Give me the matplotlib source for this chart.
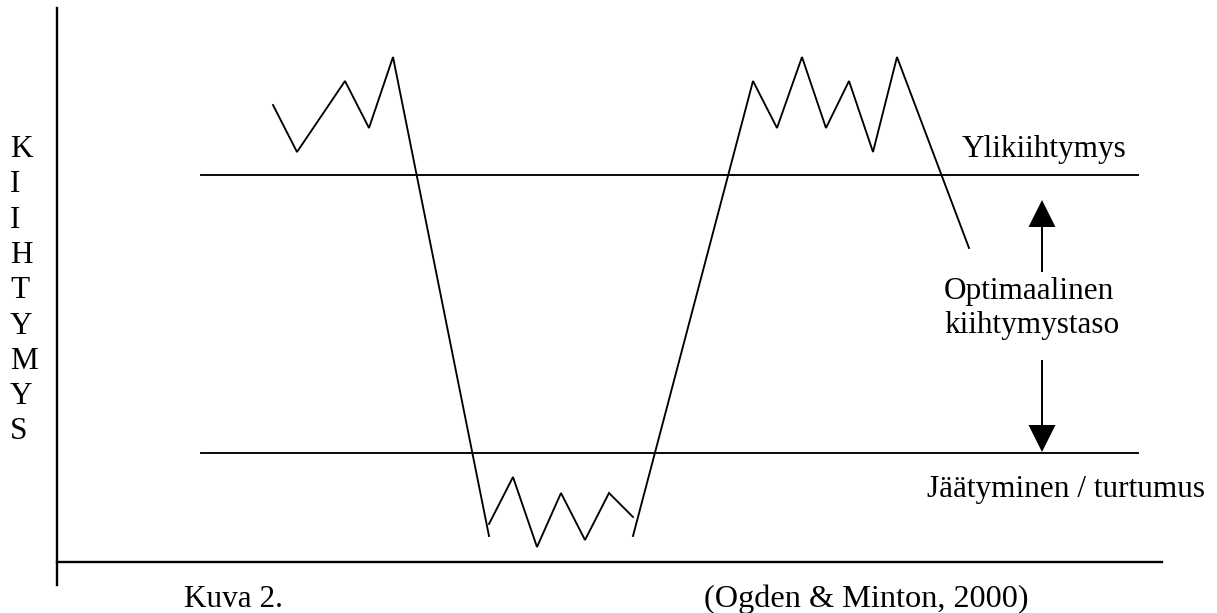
import matplotlib
matplotlib.use("Agg")
import matplotlib.pyplot as plt

plt.rcParams['font.family'] = ['Liberation Serif', 'DejaVu Serif']

# kiihtymyksen tasot (vaakaviivat)
ylikiihtymys_taso = 387
jaatyminen_taso = 109
tasot_x = [144, 1081]

# käyrä kolmessa osassa: aika / kiihtymys
osa1_x = [216, 240, 288, 312, 336, 432]
osa1_y = [457, 410, 481, 434, 505, 26]

osa2_x = [432, 456, 480, 504, 528, 552, 576]
osa2_y = [38, 85, 15, 69, 22, 69, 45]

osa3_x = [576, 696, 720, 745, 769, 792, 816, 840, 912]
osa3_y = [26, 481, 434, 505, 434, 481, 410, 505, 314]

y_kirjaimet = list("KIIHTYMYS")

fs = 22.5
lw = 1.35

fig = plt.figure(figsize=(12.17, 6.13), dpi=100)
ax = fig.add_axes([0, 0, 1, 1])
ax.set_xlim(-57, 1160)
ax.set_ylim(-51, 562)

## akselit
for s in ['top', 'right']:
    ax.spines[s].set_visible(False)
ax.spines['left'].set_position(('data', 0))
ax.spines['bottom'].set_position(('data', 0))
ax.spines['left'].set_bounds(-23, 554)
ax.spines['bottom'].set_bounds(0, 1105)
ax.spines['left'].set_linewidth(1.7)
ax.spines['bottom'].set_linewidth(1.7)
ax.set_xticks([])
ax.set_yticks([])
ax.patch.set_visible(False)

## tasot
ax.plot(tasot_x, [ylikiihtymys_taso] * 2, color='black', lw=lw)
ax.plot(tasot_x, [jaatyminen_taso] * 2, color='black', lw=lw)

## käyrä
for xs, ys in [(osa1_x, osa1_y), (osa2_x, osa2_y), (osa3_x, osa3_y)]:
    ax.plot(xs, ys, color='black', lw=lw, solid_joinstyle='miter')

## nuolet
ax.arrow(985, 290, 0, 72, width=2, head_width=27, head_length=27,
         length_includes_head=True, fc='black', ec='none')
ax.arrow(985, 202, 0, -92, width=2, head_width=27, head_length=27,
         length_includes_head=True, fc='black', ec='none')

## tekstit
ax.text(987, 405, "Ylikiihtymys", fontsize=fs, ha='center', va='baseline')
ax.text(887, 263, "Optimaalinen", fontsize=fs, ha='left', va='baseline')
ax.text(887, 229, "kiihtymystaso", fontsize=fs, ha='left', va='baseline')
ax.text(870, 65, "Jäätyminen / turtumus", fontsize=fs, ha='left', va='baseline')
ax.text(127, -45, "Kuva 2.", fontsize=fs, ha='left', va='baseline')
ax.text(647, -45, "(Ogden & Minton, 2000)", fontsize=23.2, ha='left', va='baseline')

for i, k in enumerate(y_kirjaimet):
    ax.text(-47, 405 - i * 35.3, k, fontsize=fs, ha='left', va='baseline')

fig.savefig("out.png", dpi=100)
